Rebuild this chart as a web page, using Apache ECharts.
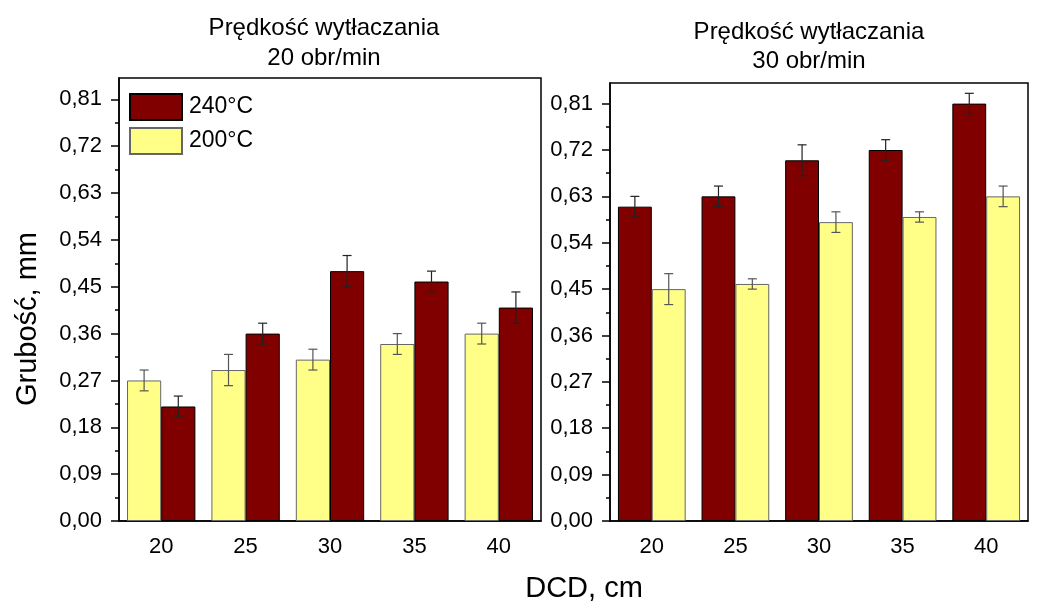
<!DOCTYPE html>
<html>
<head>
<meta charset="utf-8">
<script src="https://cdn.jsdelivr.net/npm/echarts@6/dist/echarts.min.js"></script>
<style>
  html, body { margin: 0; padding: 0; background: #fff; }
  #chart { width: 1049px; height: 605px; }
</style>
</head>
<body>
<div id="chart"></div>
<script>
// DCD distances (cm)
const categories = ['20', '25', '30', '35', '40'];

// Thickness (mm), extrusion speed 20 rpm
const t240_20rpm = [0.22, 0.36, 0.48, 0.46, 0.41];
const t240_20rpm_err = [0.02, 0.02, 0.03, 0.02, 0.03];
const t200_20rpm = [0.27, 0.29, 0.31, 0.34, 0.36];
const t200_20rpm_err = [0.02, 0.03, 0.02, 0.02, 0.02];

// Thickness (mm), extrusion speed 30 rpm
const t240_30rpm = [0.61, 0.63, 0.70, 0.72, 0.81];
const t240_30rpm_err = [0.02, 0.02, 0.03, 0.02, 0.02];
const t200_30rpm = [0.45, 0.46, 0.58, 0.59, 0.63];
const t200_30rpm_err = [0.03, 0.01, 0.02, 0.01, 0.02];

// Y tick values
const yTicks = [0, 0.09, 0.18, 0.27, 0.36, 0.45, 0.54, 0.63, 0.72, 0.81];
const yMinorTicks = yTicks.slice(0, -1).map((v, i) => +((v + yTicks[i + 1]) / 2).toFixed(3));

const FONT = '"Liberation Sans", Arial, sans-serif';
const MAROON = '#800000';
const YELLOW = '#FFFF88';
const CAT_GAP = 0.19;               // barCategoryGap fraction
const HALF = (1 - CAT_GAP) / 4;     // offset of each bar centre from category centre

function errData(vals, errs) {
  return vals.map((v, i) => [i, v - errs[i], v + errs[i]]);
}

function errSeries(grid, vals, errs, side, color) {
  return {
    type: 'custom',
    xAxisIndex: grid * 2,
    yAxisIndex: grid * 2,
    z: 5,
    silent: true,
    data: errData(vals, errs),
    renderItem: function (params, api) {
      const i = api.value(0);
      const lo = api.coord([i, api.value(1)]);
      const hi = api.coord([i, api.value(2)]);
      const w = api.size([1, 0])[0];
      const x = lo[0] + side * HALF * w;
      const cap = 4.5;
      const style = { stroke: color, lineWidth: 1.2 };
      return {
        type: 'group',
        children: [
          { type: 'line', shape: { x1: x, y1: lo[1], x2: x, y2: hi[1] }, style: style },
          { type: 'line', shape: { x1: x - cap, y1: hi[1], x2: x + cap, y2: hi[1] }, style: style },
          { type: 'line', shape: { x1: x - cap, y1: lo[1], x2: x + cap, y2: lo[1] }, style: style }
        ]
      };
    }
  };
}

function barSeries(grid, name, vals, color, border) {
  return {
    type: 'bar',
    name: name,
    xAxisIndex: grid * 2,
    yAxisIndex: grid * 2,
    data: vals,
    barGap: '0%',
    barCategoryGap: (CAT_GAP * 100) + '%',
    itemStyle: { color: color, borderColor: border, borderWidth: 1 },
    emphasis: { disabled: true }
  };
}

function xAxes(grid) {
  return [
    {
      type: 'category', gridIndex: grid, data: categories, position: 'bottom',
      axisLine: { lineStyle: { color: '#000', width: 1.5 } },
      axisTick: { alignWithLabel: true, length: 9, lineStyle: { color: '#000', width: 1.5 } },
      axisLabel: { color: '#000', fontSize: 22, fontFamily: FONT, margin: 15 }
    },
    {
      type: 'category', gridIndex: grid, data: categories, position: 'bottom',
      axisLine: { show: false },
      axisTick: { length: 5, lineStyle: { color: '#000', width: 1.5 } },
      axisLabel: { show: false }
    }
  ];
}

function yAxes(grid, max) {
  return [
    {
      type: 'value', gridIndex: grid, min: 0, max: max, interval: 0.09, position: 'left',
      splitLine: { show: false },
      axisLine: { show: true, lineStyle: { color: '#000', width: 1.5 } },
      axisTick: { show: true, length: 8, customValues: yTicks, lineStyle: { color: '#000', width: 1.5 } },
      axisLabel: {
        customValues: yTicks,
        color: '#000', fontSize: 22, fontFamily: FONT, margin: 17,
        formatter: v => v.toFixed(2).replace('.', ',')
      }
    },
    {
      type: 'value', gridIndex: grid, min: 0, max: max, interval: 0.09, position: 'left',
      splitLine: { show: false },
      axisLine: { show: false },
      axisTick: { show: true, length: 4, customValues: yMinorTicks, lineStyle: { color: '#000', width: 1.5 } },
      axisLabel: { show: false }
    }
  ];
}

function textEl(x, y, text, size, rotation) {
  return {
    type: 'text', x: x, y: y, rotation: rotation || 0,
    style: { text: text, fill: '#000', font: size + 'px ' + FONT, textAlign: 'center', textVerticalAlign: 'middle' }
  };
}

const chart = echarts.init(document.getElementById('chart'), null, { renderer: 'canvas' });

chart.setOption({
  backgroundColor: '#fff',
  animation: false,
  grid: [
    { left: 119, top: 78, width: 422, height: 443, show: true, borderColor: '#000', borderWidth: 1.5, backgroundColor: 'transparent' },
    { left: 610, top: 83, width: 418, height: 438, show: true, borderColor: '#000', borderWidth: 1.5, backgroundColor: 'transparent' }
  ],
  legend: {
    data: ['240°C', '200°C'],
    orient: 'vertical',
    left: 124, top: 88,
    itemWidth: 52, itemHeight: 26, itemGap: 6,
    icon: 'rect',
    selectedMode: false,
    textStyle: { color: '#000', fontSize: 23, fontFamily: FONT, padding: [0, 0, 0, 2] }
  },
  xAxis: [...xAxes(0), ...xAxes(1)],
  yAxis: [...yAxes(0, 0.851), ...yAxes(1, 0.85)],
  series: [
    barSeries(0, '200°C', t200_20rpm, YELLOW, '#666'),
    barSeries(0, '240°C', t240_20rpm, MAROON, '#000'),
    errSeries(0, t200_20rpm, t200_20rpm_err, -1, '#555'),
    errSeries(0, t240_20rpm, t240_20rpm_err, 1, '#222'),
    barSeries(1, '240°C', t240_30rpm, MAROON, '#000'),
    barSeries(1, '200°C', t200_30rpm, YELLOW, '#666'),
    errSeries(1, t240_30rpm, t240_30rpm_err, -1, '#222'),
    errSeries(1, t200_30rpm, t200_30rpm_err, 1, '#555')
  ],
  graphic: [
    textEl(324, 28, 'Prędkość wytłaczania', 24),
    textEl(324, 58, '20 obr/min', 24),
    textEl(809, 32, 'Prędkość wytłaczania', 24),
    textEl(809, 61, '30 obr/min', 24),
    textEl(584, 589, 'DCD, cm', 29),
    textEl(28, 319, 'Grubość, mm', 29, Math.PI / 2)
  ]
});
</script>
</body>
</html>
